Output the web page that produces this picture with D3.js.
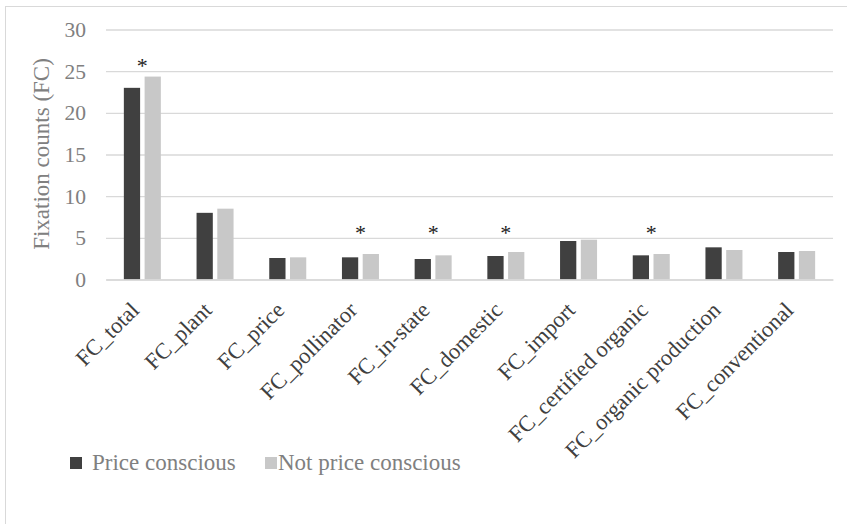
<!DOCTYPE html>
<html>
<head>
<meta charset="utf-8">
<script src="https://cdnjs.cloudflare.com/ajax/libs/d3/7.8.5/d3.min.js"></script>
<style>
  body { margin: 0; background: #fff; }
  text { font-family: "Liberation Serif", "Times New Roman", serif; }
</style>
</head>
<body>
<script>
var categories = ["FC_total", "FC_plant", "FC_price", "FC_pollinator", "FC_in-state",
                  "FC_domestic", "FC_import", "FC_certified organic",
                  "FC_organic production", "FC_conventional"];
var seriesNames = ["Price conscious", "Not price conscious"];
var priceConscious    = [23.0, 8.0, 2.58, 2.66, 2.46, 2.82, 4.62, 2.9, 3.86, 3.3];
var notPriceConscious = [24.35, 8.5, 2.66, 3.06, 2.9, 3.3, 4.78, 3.06, 3.54, 3.42];
var significant = [true, false, false, true, true, true, false, true, false, false];
var yTicks = [0, 5, 10, 15, 20, 25, 30];
var colors = ["#404040", "#c8c8c8"];

var width = 847, height = 524;
var margin = {top: 29.5, right: 14, bottom: 244.5, left: 106},
    plotW = width - margin.left - margin.right,
    plotH = height - margin.top - margin.bottom;

var svg = d3.select("body").append("svg")
    .attr("width", width)
    .attr("height", height);

// chart frame
svg.append("rect")
    .attr("x", 5.5).attr("y", 6.5)
    .attr("width", width + 10).attr("height", height + 10)
    .attr("fill", "none")
    .attr("stroke", "#d9d9d9");

var g = svg.append("g")
    .attr("transform", "translate(" + margin.left + "," + margin.top + ")");

var x = d3.scaleBand()
    .domain(categories)
    .range([0, plotW])
    .paddingInner(0)
    .paddingOuter(0);

var barW = 16.5, barGap = 4;
var x1 = d3.scaleBand()
    .domain(seriesNames)
    .range([-(barW + barGap / 2), barW + barGap / 2])
    .paddingInner(barGap / (barW * 2 + barGap) * 2)
    .paddingOuter(0);

var y = d3.scaleLinear()
    .domain([0, 30])
    .range([plotH, 0]);

// gridlines + tick labels
var yAxis = g.append("g")
    .call(d3.axisLeft(y).tickValues(yTicks).tickSize(-plotW).tickPadding(20));
yAxis.attr("font-family", null);
yAxis.select(".domain").remove();
yAxis.selectAll(".tick line")
    .attr("stroke", "#d9d9d9")
    .attr("stroke-width", 1.3);
yAxis.selectAll(".tick text")
    .attr("fill", "#808080")
    .style("font-size", "21.5px")
    .style("font-family", "Liberation Serif, serif");

// bars
var rows = categories.map(function(c, i) {
  return {cat: c, values: [priceConscious[i], notPriceConscious[i]], sig: significant[i]};
});

var groups = g.selectAll(".grp")
    .data(rows)
    .enter().append("g")
    .attr("class", "grp")
    .attr("transform", function(d) { return "translate(" + (x(d.cat) + x.bandwidth() / 2) + ",0)"; });

groups.selectAll("rect")
    .data(function(d) { return d.values.map(function(v, k) { return {name: seriesNames[k], v: v, k: k}; }); })
    .enter().append("rect")
    .attr("x", function(d) { return x1(d.name); })
    .attr("width", x1.bandwidth())
    .attr("y", function(d) { return y(d.v); })
    .attr("height", function(d) { return plotH - y(d.v); })
    .attr("fill", function(d) { return colors[d.k]; });

// significance markers, sitting on the next gridline above the pair
groups.filter(function(d) { return d.sig; })
    .append("text")
    .attr("x", 0)
    .attr("y", function(d) { return y(Math.ceil(d3.max(d.values) / 5) * 5) + 2; })
    .attr("text-anchor", "middle")
    .attr("fill", "#222")
    .style("font-size", "22px")
    .text("*");

// baseline axis
var xAxis = g.append("g")
    .attr("transform", "translate(0," + plotH + ")")
    .call(d3.axisBottom(x).tickSize(0).tickPadding(0));
xAxis.attr("font-family", null);
xAxis.select(".domain").attr("stroke", "#d9d9d9").attr("stroke-width", 1.5);
xAxis.selectAll(".tick text")
    .attr("fill", "#404040")
    .style("font-size", "22.5px")
    .style("font-family", "Liberation Serif, serif")
    .attr("text-anchor", "end")
    .attr("dy", null)
    .attr("y", 0)
    .attr("transform", "translate(-2,32) rotate(-45)");

// y axis title
svg.append("text")
    .attr("transform", "translate(49,154) rotate(-90)")
    .attr("text-anchor", "middle")
    .attr("fill", "#808080")
    .style("font-size", "23px")
    .text("Fixation counts (FC)");

// legend
var legendPos = [{sx: 70, tx: 92}, {sx: 265, tx: 278}];
var legend = svg.selectAll(".legend")
    .data(seriesNames)
    .enter().append("g")
    .attr("class", "legend");
legend.append("rect")
    .attr("x", function(d, i) { return legendPos[i].sx; })
    .attr("y", 457)
    .attr("width", 12).attr("height", 12)
    .attr("fill", function(d, i) { return colors[i]; });
legend.append("text")
    .attr("x", function(d, i) { return legendPos[i].tx; })
    .attr("y", 470)
    .attr("fill", "#808080")
    .style("font-size", "23px")
    .text(function(d) { return d; });
</script>
</body>
</html>
